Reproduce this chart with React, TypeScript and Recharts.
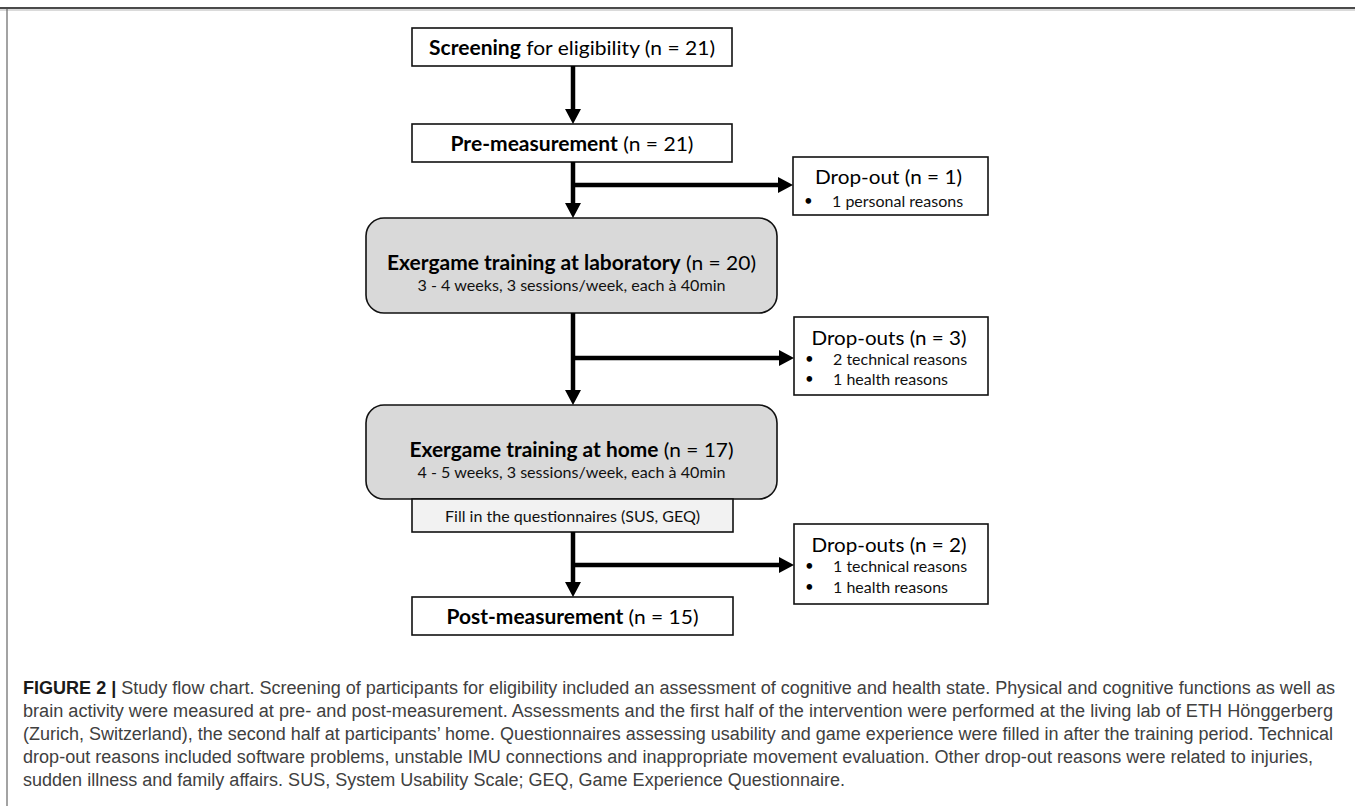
import React from 'react';
import { ComposedChart, XAxis, YAxis, ReferenceArea, ReferenceLine } from 'recharts';

// flow chart content
const stageNames = ['Screening', 'Pre-measurement', 'Exergame training at laboratory', 'Exergame training at home', 'Post-measurement'];
const stageQualifiers = [' for eligibility', '', '', '', ''];
const stageCounts = [21, 21, 20, 17, 15];
const trainingSchedules = ['', '', '3 - 4 weeks, 3 sessions/week, each à 40min', '4 - 5 weeks, 3 sessions/week, each à 40min', ''];
const dropoutTitles = ['Drop-out', 'Drop-outs', 'Drop-outs'];
const dropoutCounts = [1, 3, 2];
const dropoutReasons = [
  ['1 personal reasons'],
  ['2 technical reasons', '1 health reasons'],
  ['1 technical reasons', '1 health reasons'],
];
const questionnaireStep = 'Fill in the questionnaires (SUS, GEQ)';
const captionLines = [
  'Study flow chart. Screening of participants for eligibility included an assessment of cognitive and health state. Physical and cognitive functions as well as',
  'brain activity were measured at pre- and post-measurement. Assessments and the first half of the intervention were performed at the living lab of ETH Hönggerberg',
  '(Zurich, Switzerland), the second half at participants\u2019 home. Questionnaires assessing usability and game experience were filled in after the training period. Technical',
  'drop-out reasons included software problems, unstable IMU connections and inappropriate movement evaluation. Other drop-out reasons were related to injuries,',
  'sudden illness and family affairs. SUS, System Usability Scale; GEQ, Game Experience Questionnaire.',
];
const captionLabel = 'FIGURE 2 | ';

// layout (chart units = pixels)
const W = 1355;
const H = 806;
const TRUNK = 573;
const stageBoxes = [
  { x1: 412, x2: 732, y1: 28, y2: 66, rounded: false, titleW: 286, subW: 0 },
  { x1: 412, x2: 732, y1: 124, y2: 162, rounded: false, titleW: 243, subW: 0 },
  { x1: 366, x2: 777, y1: 218, y2: 313, rounded: true, titleW: 369, subW: 308 },
  { x1: 366, x2: 777, y1: 405, y2: 499, rounded: true, titleW: 324, subW: 308 },
  { x1: 412, x2: 733, y1: 597, y2: 635, rounded: false, titleW: 252, subW: 0 },
];
const noteBox = { x1: 412, x2: 733, y1: 499, y2: 532, w: 255 };
const dropBoxes = [
  { x1: 793, x2: 988, y1: 157, y2: 215, titleDy: 19, lineDy: [43], branchY: 185, titleW: 147 },
  { x1: 794, x2: 988, y1: 317, y2: 395, titleDy: 20, lineDy: [41, 61], branchY: 358, titleW: 155 },
  { x1: 794, x2: 988, y1: 524, y2: 604, titleDy: 20, lineDy: [41, 62], branchY: 565, titleW: 155 },
];
const trunkArrows = [
  [stageBoxes[0].y2, stageBoxes[1].y1],
  [stageBoxes[1].y2, stageBoxes[2].y1],
  [stageBoxes[2].y2, stageBoxes[3].y1],
  [noteBox.y2, stageBoxes[4].y1],
];

const boxFont = 'Lato, "Open Sans", sans-serif';
const captionFont = '"Liberation Sans", Arial, sans-serif';

function Arrow(props: any) {
  const { x1, y1, x2, y2 } = props;
  const dx = x2 - x1;
  const dy = y2 - y1;
  const len = Math.sqrt(dx * dx + dy * dy) || 1;
  const ux = dx / len;
  const uy = dy / len;
  const head = 15;
  const half = 8;
  const bx = x2 - ux * head;
  const by = y2 - uy * head;
  const pts = [
    `${x2},${y2}`,
    `${bx - uy * half},${by + ux * half}`,
    `${bx + uy * half},${by - ux * half}`,
  ].join(' ');
  return (
    <g>
      <line x1={x1} y1={y1} x2={bx + ux} y2={by + uy} stroke="#000" strokeWidth={4.5} />
      <polygon points={pts} fill="#000" />
    </g>
  );
}

function renderStage(p: any, i: number) {
  const b = stageBoxes[i];
  const cx = p.x + p.width / 2;
  const hasSub = trainingSchedules[i] !== '';
  const titleY = hasSub ? p.y + 44 : p.y + p.height / 2;
  return (
    <g>
      <rect
        x={p.x}
        y={p.y}
        width={p.width}
        height={p.height}
        rx={b.rounded ? 18 : 0}
        fill={b.rounded ? '#d9d9d9' : '#fff'}
        stroke="#111"
        strokeWidth={1.6}
      />
      <text
        x={cx}
        y={titleY}
        textAnchor="middle"
        dominantBaseline="central"
        fontFamily={boxFont}
        fontSize={20}
        fill="#000"
        textLength={b.titleW}
        lengthAdjust="spacingAndGlyphs"
      >
        <tspan fontWeight={700}>{stageNames[i]}</tspan>
        <tspan fontWeight={400}>{`${stageQualifiers[i]} (n = ${stageCounts[i]})`}</tspan>
      </text>
      {hasSub && (
        <text
          x={cx}
          y={p.y + 67}
          textAnchor="middle"
          dominantBaseline="central"
          fontFamily={boxFont}
          fontSize={15}
          fill="#111"
          textLength={b.subW}
          lengthAdjust="spacingAndGlyphs"
        >
          {trainingSchedules[i]}
        </text>
      )}
    </g>
  );
}

function renderNote(p: any) {
  return (
    <g>
      <rect x={p.x} y={p.y} width={p.width} height={p.height} fill="#f2f2f2" stroke="#111" strokeWidth={1.6} />
      <text
        x={p.x + p.width / 2}
        y={p.y + p.height / 2}
        textAnchor="middle"
        dominantBaseline="central"
        fontFamily={boxFont}
        fontSize={15}
        fill="#111"
        textLength={noteBox.w}
        lengthAdjust="spacingAndGlyphs"
      >
        {questionnaireStep}
      </text>
    </g>
  );
}

function renderDrop(p: any, i: number) {
  const b = dropBoxes[i];
  return (
    <g>
      <rect x={p.x} y={p.y} width={p.width} height={p.height} fill="#fff" stroke="#111" strokeWidth={1.6} />
      <text
        x={p.x + p.width / 2 - 2}
        y={p.y + b.titleDy}
        textAnchor="middle"
        dominantBaseline="central"
        fontFamily={boxFont}
        fontSize={20}
        fill="#000"
        textLength={b.titleW}
        lengthAdjust="spacingAndGlyphs"
      >
        {`${dropoutTitles[i]} (n = ${dropoutCounts[i]})`}
      </text>
      {dropoutReasons[i].map((r, k) => (
        <g key={k}>
          <text x={p.x + 11} y={p.y + b.lineDy[k]} dominantBaseline="central" fontFamily={boxFont} fontSize={15} fill="#000">
            •
          </text>
          <text x={p.x + 39} y={p.y + b.lineDy[k]} dominantBaseline="central" fontFamily={boxFont} fontSize={16} fill="#111">
            {r}
          </text>
        </g>
      ))}
    </g>
  );
}

const captionWidths = [1312, 1310, 1310, 1290, 822];

function renderCaption(p: any) {
  return (
    <g>
      {captionLines.map((line, i) => (
        <text
          key={i}
          x={p.x}
          y={p.y + 12 + i * 23}
          dominantBaseline="central"
          fontFamily={captionFont}
          fontSize={18}
          fill="#404040"
          textLength={captionWidths[i]}
          lengthAdjust="spacingAndGlyphs"
        >
          {i === 0 && (
            <tspan fontWeight={700} fill="#1a1a1a">
              {captionLabel}
            </tspan>
          )}
          {line}
        </text>
      ))}
    </g>
  );
}

export default function App() {
  return (
    <div style={{ position: 'absolute', left: 0, top: 0, width: W, height: H, background: '#fff' }}>
      <ComposedChart width={W} height={H} margin={{ top: 0, right: 0, bottom: 0, left: 0 }} data={[]}>
        <XAxis type="number" dataKey="x" domain={[0, W]} allowDataOverflow hide />
        <YAxis type="number" dataKey="y" domain={[0, H]} allowDataOverflow reversed hide />

        {/* frame */}
        <ReferenceLine y={8} stroke="#4a4a4a" strokeWidth={2} />
        <ReferenceLine y={10} stroke="#b5b5b5" strokeWidth={1} />
        <ReferenceLine segment={[{ x: 7, y: 9 }, { x: 7, y: H }]} stroke="#666" strokeWidth={1.2} />

        {/* arrows */}
        {trunkArrows.map(([a, b], i) => (
          <ReferenceLine
            key={`t${i}`}
            segment={[{ x: TRUNK, y: a }, { x: TRUNK, y: b }]}
            shape={(p: any) => <Arrow {...p} />}
          />
        ))}
        {dropBoxes.map((d, i) => (
          <ReferenceLine
            key={`b${i}`}
            segment={[{ x: TRUNK, y: d.branchY }, { x: d.x1, y: d.branchY }]}
            shape={(p: any) => <Arrow {...p} />}
          />
        ))}

        {/* boxes */}
        {stageBoxes.map((b, i) => (
          <ReferenceArea key={`s${i}`} x1={b.x1} x2={b.x2} y1={b.y1} y2={b.y2} shape={(p: any) => renderStage(p, i)} />
        ))}
        <ReferenceArea x1={noteBox.x1} x2={noteBox.x2} y1={noteBox.y1} y2={noteBox.y2} shape={(p: any) => renderNote(p)} />
        {dropBoxes.map((b, i) => (
          <ReferenceArea key={`d${i}`} x1={b.x1} x2={b.x2} y1={b.y1} y2={b.y2} shape={(p: any) => renderDrop(p, i)} />
        ))}

        {/* caption */}
        <ReferenceArea x1={23} x2={1335} y1={676} y2={792} shape={(p: any) => renderCaption(p)} />
      </ComposedChart>
    </div>
  );
}
